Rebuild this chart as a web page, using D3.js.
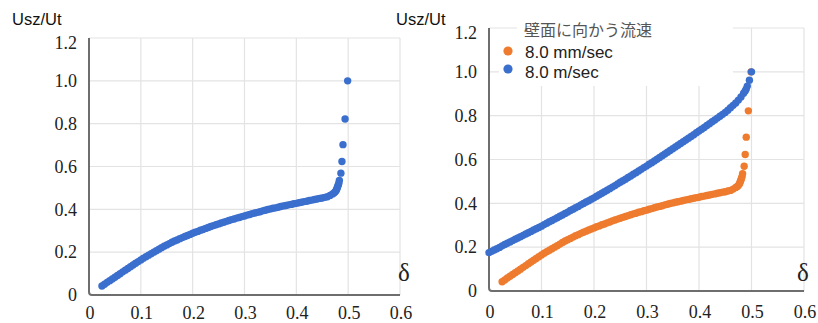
<!DOCTYPE html>
<html>
<head>
<meta charset="utf-8">
<script src="https://cdn.jsdelivr.net/npm/d3@7"></script>
<style>
  body { margin: 0; background: #fff; }
  svg { display: block; }
</style>
</head>
<body>
<div id="chart"></div>
<script>
// Usz/Ut against δ
const slowX = [0.025, 0.030, 0.035, 0.040, 0.045, 0.050, 0.055, 0.060, 0.065, 0.070, 0.075, 0.080, 0.085, 0.090, 0.095,
  0.100, 0.105, 0.110, 0.115, 0.120, 0.125, 0.130, 0.135, 0.140, 0.145, 0.150, 0.155, 0.160, 0.165, 0.170, 0.175,
  0.180, 0.185, 0.190, 0.195, 0.200, 0.205, 0.210, 0.215, 0.220, 0.225, 0.230, 0.235, 0.240, 0.245, 0.250, 0.255,
  0.260, 0.265, 0.270, 0.275, 0.280, 0.285, 0.290, 0.295, 0.300, 0.305, 0.310, 0.315, 0.320, 0.325, 0.330, 0.335,
  0.340, 0.345, 0.350, 0.355, 0.360, 0.365, 0.370, 0.375, 0.380, 0.385, 0.390, 0.395, 0.400, 0.405, 0.410, 0.415,
  0.420, 0.425, 0.430, 0.435, 0.440, 0.445, 0.450, 0.455, 0.460, 0.465, 0.470, 0.473, 0.475, 0.477, 0.478, 0.479,
  0.480, 0.481, 0.482, 0.483, 0.486, 0.488, 0.490, 0.494, 0.499]
const slowY = [0.042, 0.050, 0.059, 0.067, 0.075, 0.083, 0.091, 0.099, 0.108, 0.116, 0.124, 0.132, 0.140, 0.148, 0.156,
  0.164, 0.172, 0.179, 0.186, 0.193, 0.200, 0.207, 0.214, 0.221, 0.228, 0.234, 0.240, 0.246, 0.252, 0.257, 0.263,
  0.268, 0.273, 0.278, 0.283, 0.288, 0.293, 0.297, 0.302, 0.306, 0.311, 0.315, 0.320, 0.324, 0.328, 0.332, 0.336,
  0.340, 0.344, 0.348, 0.352, 0.355, 0.359, 0.362, 0.366, 0.369, 0.373, 0.376, 0.380, 0.383, 0.386, 0.389, 0.393,
  0.396, 0.399, 0.402, 0.405, 0.407, 0.410, 0.413, 0.416, 0.418, 0.421, 0.423, 0.426, 0.428, 0.431, 0.433, 0.436,
  0.438, 0.441, 0.443, 0.446, 0.448, 0.451, 0.453, 0.456, 0.459, 0.465, 0.472, 0.477, 0.482, 0.488, 0.495, 0.501,
  0.508, 0.515, 0.522, 0.535, 0.569, 0.623, 0.702, 0.822, 1.0]

const fastX = [0.000, 0.005, 0.010, 0.015, 0.020, 0.025, 0.030, 0.035, 0.040, 0.045, 0.050, 0.055, 0.060, 0.065, 0.070,
  0.075, 0.080, 0.085, 0.090, 0.095, 0.100, 0.105, 0.110, 0.115, 0.120, 0.125, 0.130, 0.135, 0.140, 0.145, 0.150,
  0.155, 0.160, 0.165, 0.170, 0.175, 0.180, 0.185, 0.190, 0.195, 0.200, 0.205, 0.210, 0.215, 0.220, 0.225, 0.230,
  0.235, 0.240, 0.245, 0.250, 0.255, 0.260, 0.265, 0.270, 0.275, 0.280, 0.285, 0.290, 0.295, 0.300, 0.305, 0.310,
  0.315, 0.320, 0.325, 0.330, 0.335, 0.340, 0.345, 0.350, 0.355, 0.360, 0.365, 0.370, 0.375, 0.380, 0.385, 0.390,
  0.395, 0.400, 0.405, 0.410, 0.415, 0.420, 0.425, 0.430, 0.435, 0.440, 0.445, 0.450, 0.455, 0.460, 0.465, 0.470,
  0.475, 0.480, 0.485, 0.488, 0.490, 0.492, 0.496, 0.500]
const fastY = [0.175, 0.181, 0.187, 0.193, 0.199, 0.206, 0.212, 0.218, 0.224, 0.230, 0.236, 0.242, 0.248, 0.254, 0.260,
  0.266, 0.272, 0.278, 0.284, 0.290, 0.296, 0.303, 0.309, 0.316, 0.322, 0.328, 0.334, 0.341, 0.347, 0.354, 0.360,
  0.367, 0.373, 0.380, 0.386, 0.393, 0.399, 0.406, 0.412, 0.419, 0.425, 0.432, 0.439, 0.446, 0.453, 0.460, 0.467,
  0.474, 0.481, 0.489, 0.496, 0.503, 0.510, 0.518, 0.525, 0.533, 0.540, 0.548, 0.555, 0.563, 0.570, 0.578, 0.585,
  0.593, 0.601, 0.609, 0.617, 0.625, 0.633, 0.641, 0.649, 0.657, 0.665, 0.673, 0.681, 0.689, 0.697, 0.705, 0.713,
  0.722, 0.730, 0.738, 0.746, 0.755, 0.763, 0.772, 0.780, 0.789, 0.797, 0.806, 0.815, 0.825, 0.836, 0.847, 0.858,
  0.871, 0.885, 0.902, 0.913, 0.922, 0.935, 0.962, 1.0]

const xTicks = [0, 0.1, 0.2, 0.3, 0.4, 0.5, 0.6]
const yTicks = [0, 0.2, 0.4, 0.6, 0.8, 1.0, 1.2]
const legendTitle = "壁面に向かう流速"
const seriesNames = ["8.0 mm/sec", "8.0 m/sec"]

const ORANGE = "#ee7b2e", BLUE = "#3b6fce"
const serif = "'Liberation Serif', 'Times New Roman', 'DejaVu Serif', serif"
const sans = "'Liberation Sans', Arial, sans-serif"

const svg = d3.select("#chart")
  .append("svg")
    .attr("width", 818)
    .attr("height", 323)

const toPoints = (xs, ys) => xs.map((x, i) => ({x: x, y: ys[i]}))

function drawPanel(p) {
  const x = d3.scaleLinear().domain([0, 0.6]).range([p.left, p.right])
  const y = d3.scaleLinear().domain([0, 1.2]).range([p.bottom, p.top])
  const g = svg.append("g")

  //grid
  g.selectAll(".hgrid").data(yTicks.slice(1)).enter().append("line")
    .attr("x1", p.left).attr("x2", p.right)
    .attr("y1", d => y(d)).attr("y2", d => y(d))
    .style("stroke", "#e3e3e3").style("stroke-width", 1.2)
  g.selectAll(".vgrid").data(xTicks.slice(1)).enter().append("line")
    .attr("x1", d => x(d)).attr("x2", d => x(d))
    .attr("y1", p.top).attr("y2", p.bottom)
    .style("stroke", "#e3e3e3").style("stroke-width", 1.2)

  if (p.legend) {
    g.append("rect").attr("x", 499).attr("y", 36).attr("width", 234).attr("height", 50).style("fill", "#fff")
    g.append("rect").attr("x", 517).attr("y", 18).attr("width", 216).attr("height", 20).style("fill", "#fff")
  }

  //axes
  g.append("path")
    .attr("d", `M${p.left},${p.top}V${p.bottom - 3}Q${p.left},${p.bottom} ${p.left + 3},${p.bottom}H${p.right}`)
    .style("fill", "none").style("stroke", "#6e6e6e").style("stroke-width", 2)

  g.selectAll(".ylab").data(yTicks).enter().append("text")
    .attr("x", p.left - 12).attr("y", d => y(d) + (d == 1.2 ? 5 : 0))
    .attr("dy", "0.35em")
    .attr("text-anchor", "end")
    .style("font-family", serif).style("font-size", "18px").style("fill", "#222")
    .text(d => d == 0 ? "0" : d.toFixed(1))
  g.selectAll(".xlab").data(xTicks).enter().append("text")
    .attr("x", d => x(d) + 1).attr("y", p.labelY)
    .attr("text-anchor", "middle")
    .style("font-family", serif).style("font-size", "18px").style("fill", "#222")
    .text(d => d == 0 ? "0" : d.toFixed(1))

  g.append("text").attr("x", p.yTitleX).attr("y", 25)
    .style("font-family", sans).style("font-size", "16.5px").style("fill", "#111")
    .text("Usz/Ut")
  g.append("text").attr("x", p.deltaX).attr("y", 281)
    .attr("text-anchor", "middle")
    .style("font-family", serif).style("font-size", "25px").style("fill", "#222")
    .text("δ")

  //dots
  p.series.forEach(s => {
    g.selectAll(null).data(s.points).enter().append("circle")
      .attr("cx", d => x(d.x)).attr("cy", d => y(d.y))
      .attr("r", 3.7)
      .style("fill", s.color)
  })
}

drawPanel({left: 89, right: 400, top: 38, bottom: 295, labelY: 319, yTitleX: 12, deltaX: 404,
  series: [{color: BLUE, points: toPoints(slowX, slowY)}]})
drawPanel({left: 489, right: 804, top: 28, bottom: 291, labelY: 318, yTitleX: 396, deltaX: 803, legend: true,
  series: [{color: ORANGE, points: toPoints(slowX, slowY)}, {color: BLUE, points: toPoints(fastX, fastY)}]})

// legend
const legend = svg.append("g")
legend.append("text").attr("x", 524).attr("y", 30).attr("dy", "0.35em")
  .style("font-family", "'Noto Sans CJK JP', sans-serif").style("font-size", "16px").style("fill", "#555")
  .text(legendTitle)
legend.selectAll("circle").data(seriesNames).enter().append("circle")
  .attr("cx", 508).attr("cy", (d, i) => 51 + i * 18).attr("r", 4.6)
  .style("fill", (d, i) => i == 0 ? ORANGE : BLUE)
legend.selectAll(".item").data(seriesNames).enter().append("text")
  .attr("x", 525).attr("y", (d, i) => 52 + i * 20).attr("dy", "0.35em")
  .style("font-family", sans).style("font-size", "17px").style("fill", "#222")
  .text(d => d)
</script>
</body>
</html>
